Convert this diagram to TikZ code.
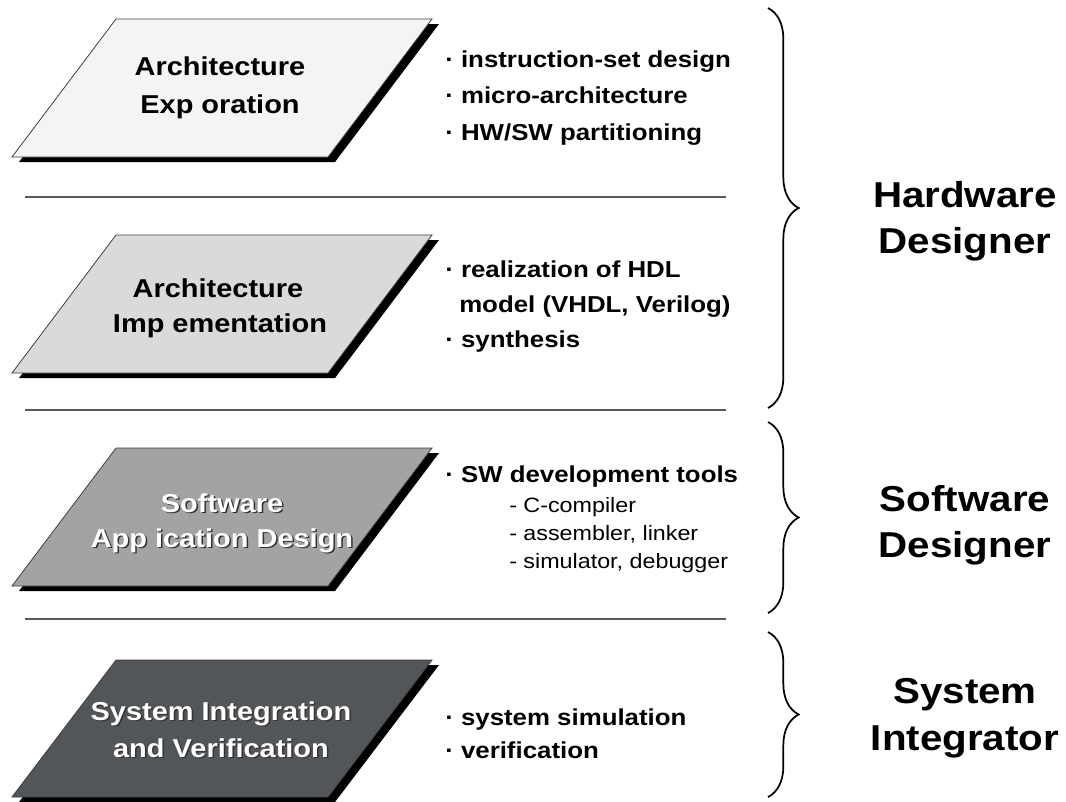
\documentclass[tikz,border=0pt]{standalone}
\usepackage{fontspec}
\setmainfont{Liberation Sans}[FakeStretch=1.12]
\usetikzlibrary{decorations.pathreplacing}
\definecolor{fillA}{HTML}{F3F5F5}
\definecolor{fillB}{HTML}{DADADA}
\definecolor{fillC}{HTML}{A3A3A3}
\definecolor{fillD}{HTML}{525659}
\newcommand\drawlayer[3]{%
  \fill[black, shift={(7,5)}] (12,#2) -- (328,#2) -- (432,#1) -- (116,#1) -- cycle;
  \filldraw[fill=#3, draw=black!75, line width=0.6pt] (12,#2) -- (328,#2) -- (432,#1) -- (116,#1) -- cycle;
}
\begin{document}
\begin{tikzpicture}[x=0.75pt,y=-0.75pt,
  sep/.style={draw=black!65, line width=1.1pt},
  boxtxt/.style={anchor=base, inner sep=0pt, font=\fontsize{19.4}{26}\selectfont\bfseries},
  whitetxt/.style={boxtxt, text=white},
  shadowtxt/.style={boxtxt, text=black!80},
  item/.style={anchor=base west, inner sep=0pt, font=\fontsize{17.3}{20}\selectfont\bfseries},
  subitem/.style={anchor=base west, inner sep=0pt, font=\fontsize{15.6}{18}\selectfont},
  role/.style={anchor=base, inner sep=0pt, font=\fontsize{27}{34}\selectfont\bfseries},
  brc/.style={decorate, decoration={brace, amplitude=23pt}, line width=1.3pt}]
\useasboundingbox (0,0) rectangle (1066,801);
\fill[white] (0,0) rectangle (1066,801);

% separators
\draw[sep] (25,197) -- (726,197);
\draw[sep] (25,410) -- (726,410);
\draw[sep] (25,619) -- (726,619);

% layers
\drawlayer{19}{157}{fillA}
\drawlayer{235}{373}{fillB}
\drawlayer{448}{586}{fillC}
\drawlayer{660}{797}{fillD}

% box texts
\node[boxtxt] (a1) at (220,75) {Architecture};
\node[boxtxt] (a2) at (220,113) {Exp oration};
\node[boxtxt] (b1) at (218,297) {Architecture};
\node[boxtxt] (b2) at (220,332) {Imp ementation};
\node[shadowtxt] (c1s) at (223.5,513.5) {Software};
\node[shadowtxt] (c2s) at (223.5,548.5) {App ication Design};
\node[whitetxt] (c1) at (222,512) {Software};
\node[whitetxt] (c2) at (222,547) {App ication Design};
\node[shadowtxt] (d1s) at (222.5,721.5) {System Integration};
\node[shadowtxt] (d2s) at (222.5,758.5) {and Verification};
\node[whitetxt] (d1) at (221,720) {System Integration};
\node[whitetxt] (d2) at (221,757) {and Verification};

% items
\node[item] (i1) at (445,67) {· instruction-set design};
\node[item] (i2) at (445,103) {· micro-architecture};
\node[item] (i3) at (445,140) {· HW/SW partitioning};
\node[item] (j1) at (445,277) {· realization of HDL};
\node[item] (j2) at (459,312) {model (VHDL, Verilog)};
\node[item] (j3) at (445,347) {· synthesis};
\node[item] (k1) at (445,482) {· SW development tools};
\node[subitem] (k2) at (509,512) {- C-compiler};
\node[subitem] (k3) at (509,540) {- assembler, linker};
\node[subitem] (k4) at (509,568) {- simulator, debugger};
\node[item] (l1) at (445,725) {· system simulation};
\node[item] (l2) at (445,758) {· verification};

% braces
\coordinate (h1) at (768,8);
\coordinate (h2) at (768,408);
\coordinate (s1) at (768,422);
\coordinate (s2) at (768,613);
\coordinate (g1) at (768,632);
\coordinate (g2) at (768,797);
\draw[brc] (h1) -- (h2);
\draw[brc] (s1) -- (s2);
\draw[brc] (g1) -- (g2);

% roles
\node[role] (r1) at (965,207) {Hardware};
\node[role] (r2) at (965,253) {Designer};
\node[role] (r3) at (965,511) {Software};
\node[role] (r4) at (965,557) {Designer};
\node[role] (r5) at (965,703) {System};
\node[role] (r6) at (965,750) {Integrator};
\end{tikzpicture}
\end{document}
